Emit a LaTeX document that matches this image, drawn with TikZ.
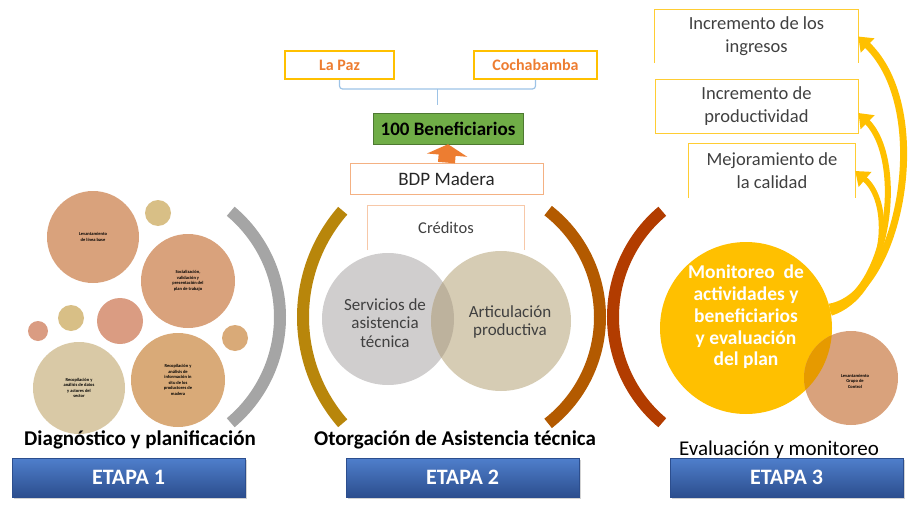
\documentclass[tikz,border=0pt]{standalone}
\usepackage{fontspec}
\setmainfont{Carlito}
\usetikzlibrary{arrows.meta,shadows}

\definecolor{salmon}{HTML}{D9A27C}
\definecolor{salmonB}{HTML}{DA9C82}
\definecolor{khaki}{HTML}{D8BF86}
\definecolor{beige}{HTML}{D9C9A6}
\definecolor{camel}{HTML}{D9AA78}
\definecolor{gris}{HTML}{A5A5A5}
\definecolor{ocre}{HTML}{B8860B}
\definecolor{cobre}{HTML}{B35A00}
\definecolor{ladrillo}{HTML}{B23C00}
\definecolor{grisC}{HTML}{D0CECE}
\definecolor{arena}{HTML}{D6CCB4}
\definecolor{arenaO}{HTML}{BDB29D}
\definecolor{oro}{HTML}{FFC000}
\definecolor{oroO}{HTML}{E69A00}
\definecolor{naranja}{HTML}{ED7D31}
\definecolor{melon}{HTML}{F4B183}
\definecolor{verde}{HTML}{70AD47}
\definecolor{celeste}{HTML}{9DC3E6}
\definecolor{azulA}{HTML}{4F7FCC}
\definecolor{azulB}{HTML}{2C4E8E}
\definecolor{texto}{HTML}{404040}

\begin{document}
\begin{tikzpicture}[x=1pt,y=-1pt,
  bola/.style={shape=circle,inner sep=0pt,align=center,font=\bfseries\fontsize{4.5}{5.5}\selectfont},
  titulo/.style={font=\bfseries\fontsize{21}{24}\selectfont},
  etapa/.style={draw=azulB,top color=azulA,bottom color=azulB,minimum width=233pt,minimum height=39pt,text=white,font=\bfseries\fontsize{22}{24}\selectfont,drop shadow={opacity=0.35}},
  corchete/.style={line width=12pt},
  ciudad/.style={draw=oro,line width=1.8pt,minimum height=28pt,text=naranja,font=\bfseries\fontsize{16}{18}\selectfont},
  marco/.style={draw=melon,line width=0.8pt},
  meta/.style={align=center,text=texto,font=\fontsize{18.5}{23}\selectfont},
  curva/.style={draw=oro,-{Triangle[width=19pt,length=13pt]}},
  llave/.style={draw=celeste,line width=1.2pt,rounded corners=3pt}]
\useasboundingbox (0,0) rectangle (911,506);

% etapa 1
\node[bola,fill=salmon,minimum size=92pt] (linea) at (93,237) {Levantamiento\\ de línea base};
\node[bola,fill=khaki,minimum size=26pt] (b1) at (158,213) {};
\node[bola,fill=salmon,minimum size=94pt] (social) at (188,281) {Socialización,\\ validación y\\ presentación del\\ plan de trabajo};
\node[bola,fill=salmonB,minimum size=46pt] (b2) at (120,321) {};
\node[bola,fill=khaki,minimum size=26pt] (b3) at (71,318) {};
\node[bola,fill=salmonB,minimum size=20pt] (b4) at (38,331) {};
\node[bola,fill=camel,minimum size=26pt] (b5) at (235,338) {};
\node[bola,fill=beige,minimum size=92pt] (datos) at (79,388) {Recopilación y\\ análisis de datos\\ y actores del\\ sector};
\node[bola,fill=camel,minimum size=94pt] (situ) at (178,380) {Recopilación y\\ análisis de\\ información in\\ situ de los\\ productores de\\ madera};
\draw[corchete,gris] (142,317) ++(50:138) arc (50:-50:138);
\node[titulo] (t1) at (140,440) {Diagnóstico y planificación};
\node[etapa] (e1) at (128.5,477.5) {ETAPA 1};

% etapa 2
\draw[corchete,ocre] (465,317) ++(139:162) arc (139:221:162);
\draw[corchete,cobre] (465,317) ++(52:135) arc (52:-52:135);
\node[bola,fill=grisC,minimum size=132pt] (serv) at (388,319) {};
\node[bola,fill=arena,minimum size=140pt] (art) at (501,321) {};
\begin{scope}
  \clip (388,319) circle (66);
  \fill[arenaO] (501,321) circle (70);
\end{scope}
\node[meta,font=\fontsize{17}{18.5}\selectfont] at (385,323) {Servicios de\\ asistencia\\ técnica};
\node[meta,font=\fontsize{17}{18.5}\selectfont] at (510,322) {Articulación\\ productiva};
\node[meta,font=\fontsize{16.5}{18}\selectfont,minimum width=156pt,minimum height=44pt] (cred) at (446,228) {Créditos};
\draw[marco,draw=melon!70] (cred.south west) -- (cred.north west) -- (cred.north east) -- (cred.south east);
\node[marco,minimum width=193pt,minimum height=31pt,text=black!85,font=\fontsize{19}{21}\selectfont] (bdp) at (446.5,178.5) {BDP Madera};
\node[fill=verde,draw=verde!70!black,minimum width=150pt,minimum height=31pt,font=\bfseries\fontsize{19}{21}\selectfont] (ben) at (448,128.5) {100 Beneficiarios};
\draw[naranja,line width=17pt,-{Triangle[width=40pt,length=11pt]}] (bdp.north) -- (ben.south);
\node[ciudad,minimum width=109pt] (lapaz) at (339.5,65) {La Paz};
\node[ciudad,minimum width=123pt] (cocha) at (535.5,65) {Cochabamba};
\coordinate (medio) at (437.5,89);
\draw[llave] (lapaz.south) |- (medio) -| (cocha.south);
\draw[llave] (medio) -- ++(0,16);
\node[titulo] (t2) at (455,440) {Otorgación de Asistencia técnica};
\node[etapa] (e2) at (462.5,477.5) {ETAPA 2};

% etapa 3
\draw[corchete,ladrillo] (751,317) ++(130:138) arc (130:230:138);
\node[bola,fill=oro,minimum size=172pt] (mon) at (746,328) {};
\node[bola,fill=salmon,minimum size=94pt] (grupo) at (851,378) {};
\begin{scope}
  \clip (746,328) circle (86);
  \fill[oroO] (851,378) circle (47);
\end{scope}
\node[align=center,text=white,font=\bfseries\fontsize{19.5}{21.7}\selectfont] at (746,317) {Monitoreo~ de\\ actividades y\\ beneficiarios\\ y evaluación\\ del plan};
\node[bola] at (855,381) {Levantamiento\\ Grupo de\\ Control};
\node[meta,minimum width=203pt,minimum height=53pt] (ingr) at (756.5,36.5) {Incremento de los\\ ingresos};
\draw[draw=oro!80,line width=0.9pt] (ingr.south west) -- (ingr.north west) -- (ingr.north east) -- (ingr.south east);
\node[meta,draw=oro!80,line width=0.9pt,minimum width=203pt,minimum height=54pt] (prod) at (756.5,106) {Incremento de\\ productividad};
\node[meta,minimum width=166pt,minimum height=54pt] (cal) at (772,171) {Mejoramiento de\\ la calidad};
\draw[draw=oro!80,line width=0.9pt] (cal.south west) -- (cal.north west) -- (cal.north east) -- (cal.south east);
\draw[curva,line width=7pt] (mon.14) .. controls (900,295) and (935,110) .. (ingr.east);
\draw[curva,line width=6pt] (mon.12) .. controls (890,292) and (905,160) .. ([yshift=-7pt]prod.east);
\draw[curva,line width=5.5pt] (mon.10) .. controls (885,295) and (895,205) .. (cal.east);
\node[font=\fontsize{21}{24}\selectfont] (t3) at (779,450) {Evaluación y monitoreo};
\node[etapa] (e3) at (786.5,477.5) {ETAPA 3};
\end{tikzpicture}
\end{document}
